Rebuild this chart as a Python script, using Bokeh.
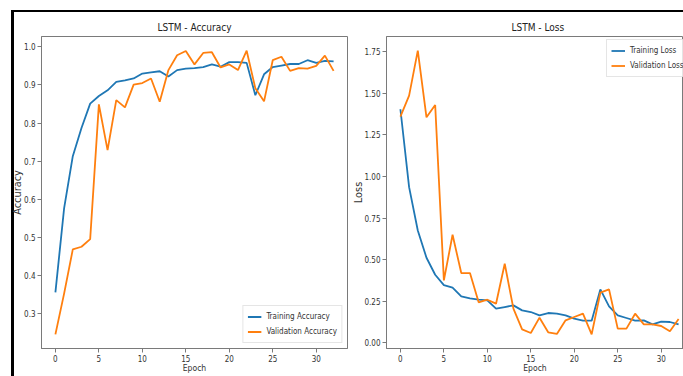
from bokeh.plotting import figure
from bokeh.layouts import row
from bokeh.models import Range1d, SingleIntervalTicker, NumeralTickFormatter, Legend, LegendItem
from bokeh.embed import file_html
from bokeh.resources import INLINE

# ---------------- data ----------------
epochs = list(range(33))
train_acc = [0.355, 0.576, 0.713, 0.787, 0.851, 0.871, 0.886, 0.908, 0.912, 0.917,
             0.930, 0.933, 0.936, 0.922, 0.939, 0.943, 0.944, 0.947, 0.954, 0.948,
             0.960, 0.960, 0.958, 0.873, 0.928, 0.947, 0.951, 0.955, 0.955, 0.965,
             0.958, 0.963, 0.962]
val_acc = [0.245, 0.352, 0.468, 0.475, 0.495, 0.849, 0.729, 0.860, 0.841, 0.901,
           0.905, 0.917, 0.856, 0.939, 0.978, 0.989, 0.954, 0.984, 0.986, 0.946,
           0.954, 0.939, 0.990, 0.891, 0.857, 0.965, 0.974, 0.937, 0.944, 0.943,
           0.950, 0.977, 0.937]
train_loss = [1.404, 0.936, 0.676, 0.512, 0.410, 0.348, 0.332, 0.280, 0.268, 0.260,
              0.256, 0.206, 0.216, 0.226, 0.196, 0.186, 0.166, 0.180, 0.176, 0.166,
              0.146, 0.134, 0.134, 0.322, 0.220, 0.166, 0.150, 0.134, 0.136, 0.112,
              0.128, 0.126, 0.112]
val_loss = [1.360, 1.486, 1.756, 1.356, 1.430, 0.376, 0.650, 0.420, 0.420, 0.244,
            0.260, 0.236, 0.476, 0.206, 0.082, 0.060, 0.152, 0.064, 0.054, 0.136,
            0.156, 0.176, 0.052, 0.302, 0.322, 0.086, 0.086, 0.176, 0.112, 0.112,
            0.102, 0.070, 0.144]
titles = ["LSTM - Accuracy", "LSTM - Loss"]
acc_labels = ["Training Accuracy", "Validation Accuracy"]
loss_labels = ["Training Loss", "Validation Loss"]
x_label = "Epoch"
y_labels = ["Accuracy", "Loss"]

# ---------------- style ----------------
BLUE = "#1f77b4"
ORANGE = "#ff7f0e"
NARROW = "DejaVu Sans Condensed, Roboto"
WIDE = "DejaVu Sans"
SPINE = "#7a7a7a"
TXT = "#333333"


def padded(series, frac=0.05):
    lo = min(min(s) for s in series)
    hi = max(max(s) for s in series)
    span = hi - lo
    return lo - frac * span, hi + frac * span


x_lo, x_hi = padded([epochs])

# layout (pixels)
H = 364
P1_W, P2_W = 352, 347
P1_BORDERS = dict(min_border_left=41, min_border_right=5, min_border_top=24, min_border_bottom=28)
P2_BORDERS = dict(min_border_left=50, min_border_right=0, min_border_top=24, min_border_bottom=28)
frame1_w = P1_W - 41 - 5
frame2_w = P2_W - 50 - 0
x_hi2 = x_lo + (x_hi - x_lo) * frame2_w / frame1_w


def make(width, borders, xr, yr, ytick, yfmt, ylabel, title):
    p = figure(width=width, height=H, output_backend="svg", toolbar_location=None,
               x_range=Range1d(*xr), y_range=Range1d(*yr), **borders)
    p.background_fill_color = "white"
    p.border_fill_color = None
    p.outline_line_color = SPINE
    p.outline_line_width = 1
    p.xgrid.visible = False
    p.ygrid.visible = False
    p.title.text = title
    p.title.text_font = NARROW
    p.title.text_font_size = "10px"
    p.title.text_font_style = "normal"
    p.title.text_color = "#222222"
    p.title.standoff = 8
    for ax in (p.xaxis[0], p.yaxis[0]):
        ax.axis_line_color = SPINE
        ax.major_tick_line_color = SPINE
        ax.minor_tick_line_color = None
        ax.major_tick_in = 0
        ax.major_tick_out = 4
        ax.major_label_standoff = 2
        ax.major_label_text_font = NARROW
        ax.major_label_text_font_size = "8px"
        ax.major_label_text_color = TXT
        ax.axis_label_text_color = TXT
        ax.axis_label_text_font_style = "normal"
    p.xaxis[0].ticker = SingleIntervalTicker(interval=5)
    p.xaxis[0].axis_label = x_label
    p.xaxis[0].axis_label_text_font = NARROW
    p.xaxis[0].axis_label_text_font_size = "8.5px"
    p.xaxis[0].axis_label_standoff = -2
    p.yaxis[0].ticker = SingleIntervalTicker(interval=ytick)
    p.yaxis[0].formatter = NumeralTickFormatter(format=yfmt)
    p.yaxis[0].axis_label = ylabel
    p.yaxis[0].axis_label_text_font = WIDE
    p.yaxis[0].axis_label_text_font_size = "9.8px"
    return p


def legend_for(p, r1, r2, labels, **loc):
    leg = Legend(items=[LegendItem(label=labels[0], renderers=[r1]),
                        LegendItem(label=labels[1], renderers=[r2])],
                 label_text_font=NARROW, label_text_font_size="8px", label_text_color=TXT,
                 glyph_width=14, glyph_height=13, label_height=13, label_standoff=5,
                 spacing=2, padding=4, border_line_color="#cccccc", border_line_width=1,
                 background_fill_color="white", background_fill_alpha=0.8, **loc)
    p.add_layout(leg)


LW = 1.8

# accuracy
p1 = make(P1_W, P1_BORDERS, (x_lo, x_hi), padded([train_acc, val_acc]), 0.1, "0.0",
          y_labels[0], titles[0])
p1.title.align = "center"
p1.yaxis[0].axis_label_standoff = -2
a1 = p1.line(epochs, train_acc, line_color=BLUE, line_width=LW)
a2 = p1.line(epochs, val_acc, line_color=ORANGE, line_width=LW)
legend_for(p1, a1, a2, acc_labels, location="bottom_right", margin=5)
p1.margin = (0, 0, 0, -14)

# loss
p2 = make(P2_W, P2_BORDERS, (x_lo, x_hi2), padded([train_loss, val_loss]), 0.25, "0.00",
          y_labels[1], titles[1])
p2.title.align = "left"
p2.title.offset = 125
p2.yaxis[0].axis_label_standoff = -3
b1 = p2.line(epochs, train_loss, line_color=BLUE, line_width=LW)
b2 = p2.line(epochs, val_loss, line_color=ORANGE, line_width=LW)
legend_for(p2, b1, b2, loss_labels, location=(220, 271), margin=0)
p2.margin = (0, 0, 0, -16)

layout = row(p1, p2, margin=(10, 0, 0, 11),
             styles={"border-top": "2px solid black", "border-left": "3px solid black"})

open("out.html", "w").write(file_html(layout, INLINE))
